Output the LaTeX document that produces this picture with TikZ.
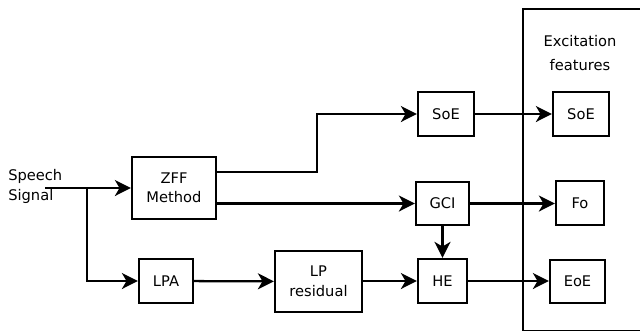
\documentclass[tikz,border=0pt]{standalone}
\usepackage{fontspec}
\setmainfont{DejaVu Sans}
\usetikzlibrary{arrows.meta}
\begin{document}
\begin{tikzpicture}[x=0.75pt,y=-0.75pt,
  blk/.style={draw,line width=1.7pt,inner sep=0pt,align=center,font=\fontsize{11}{14.5}\selectfont},
  arr/.style={line width=1.7pt,-{Stealth[length=12pt,width=12pt,inset=3.5pt]}},
  ln/.style={line width=1.7pt}]
\clip (0,0) rectangle (640,330);
\fill[white] (0,0) rectangle (640,330);
% excitation features box
\draw[line width=1.7pt] (523,9) rectangle (680,330.8);
\node[align=center,font=\fontsize{11}{18}\selectfont] (exc) at (580,53) {Excitation\\features};
% blocks
\node[blk,minimum width=63pt,minimum height=46.5pt] (zff) at (174,188) {ZFF\\Method};
\node[blk,minimum width=40.5pt,minimum height=33pt] (lpa) at (166,281) {LPA};
\node[blk,minimum width=65.25pt,minimum height=45.75pt,font=\fontsize{11}{15}\selectfont] (lpr) at (318.5,281.5) {LP\\residual};
\node[blk,minimum width=42pt,minimum height=33pt] (soe1) at (446,114) {SoE};
\node[blk,minimum width=39.75pt,minimum height=32.25pt] (gci) at (442.5,203.5) {GCI};
\node[blk,minimum width=36.75pt,minimum height=33pt] (he) at (442.5,281) {HE};
\node[blk,minimum width=42pt,minimum height=33pt] (soe2) at (581,114) {SoE};
\node[blk,minimum width=36pt,minimum height=33pt] (fo) at (580,203) {Fo};
\node[blk,minimum width=41.25pt,minimum height=32.25pt] (eoe) at (577.5,281.5) {EoE};
% input
\node[align=left,anchor=west,inner sep=0pt,font=\fontsize{11}{15}\selectfont] (sp) at (8,186) {Speech\\Signal};
\coordinate (in) at (45,188);
\coordinate (br) at (87,188);
\coordinate (turn) at (317,172);
% connectors
\draw[arr] (in) -- (zff.west);
\draw[arr] (br) |- (lpa.west);
\draw[arr] ([yshift=12pt]zff.east) -- (turn) |- (soe1.west);
\draw[arr] (zff.east |- gci.west) -- (gci.west);
\draw[arr] (lpa) -- (lpr);
\draw[arr] (lpr.east |- he.west) -- (he.west);
\draw[arr] (gci) -- (he);
\draw[arr] (soe1) -- (soe2);
\draw[arr] (gci.east) -- (fo.west |- gci.east);
\draw[arr] (he) -- (eoe.west |- he.east);
\end{tikzpicture}
\end{document}
